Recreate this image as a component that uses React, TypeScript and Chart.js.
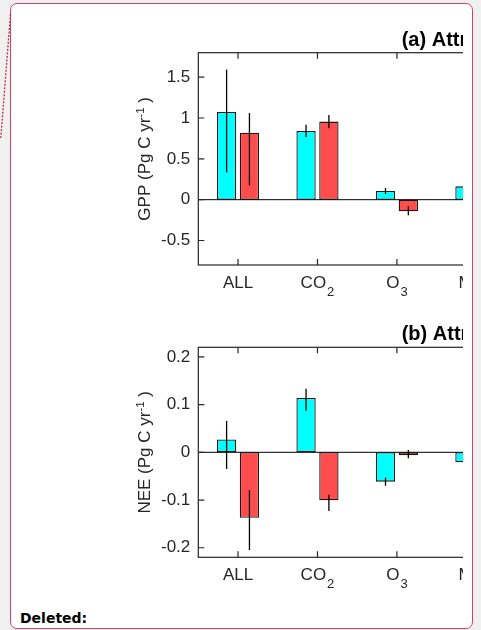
import React, { useEffect, useRef } from "react";
import { Chart, registerables } from "chart.js";

Chart.register(...registerables);

// ---------- data ----------
const categories = ["ALL", "CO₂", "O₃", "MET"];
const seriesNames = ["Experiment 1", "Experiment 2"];

const gppTicks = [-0.5, 0, 0.5, 1, 1.5];
const gppCyan = [1.075, 0.842, 0.106, 0.163];
const gppCyanLow = [0.335, 0.768, 0.07, 0.12];
const gppCyanHigh = [1.593, 0.919, 0.143, 0.21];
const gppRed = [0.821, 0.956, -0.143, 0.05];
const gppRedLow = [0.175, 0.874, -0.192, 0.0];
const gppRedHigh = [1.06, 1.038, -0.082, 0.1];

const neeTicks = [-0.2, -0.1, 0, 0.1, 0.2];
const neeCyan = [0.027, 0.114, -0.0615, -0.021];
const neeCyanLow = [-0.035, 0.087, -0.07, -0.03];
const neeCyanHigh = [0.066, 0.133, -0.053, -0.01];
const neeRed = [-0.137, -0.1005, -0.006, -0.01];
const neeRedLow = [-0.205, -0.123, -0.0126, -0.02];
const neeRedHigh = [-0.079, -0.089, 0.005, 0.0];

// ---------- styles ----------
const FONT = '"Liberation Sans", Arial, Helvetica, sans-serif';
const AXIS_COLOR = "#262626";
const CYAN = "#00ffff";
const RED = "#ff4d4d";

const SUB_MAP: Record<string, string> = { "₀": "0", "₁": "1", "₂": "2", "₃": "3", "₄": "4" };

function splitRuns(text: string) {
  const runs: { t: string; sub: boolean }[] = [];
  for (const ch of text) {
    const sub = ch in SUB_MAP;
    const c = sub ? SUB_MAP[ch] : ch;
    const last = runs[runs.length - 1];
    if (last && last.sub === sub) last.t += c;
    else runs.push({ t: c, sub });
  }
  return runs;
}

type PanelCfg = {
  title: string;
  yMain: string;
  ySup: string;
  yTail: string;
  min: number;
  max: number;
  ticks: number[];
  cyan: number[];
  red: number[];
  low: number[][];
  high: number[][];
  top: number;
  height: number;
  padTop: number;
  xAxisH: number;
};

function makePlugin(cfg: PanelCfg) {
  return {
    id: "panelDeco",
    afterDatasetsDraw(chart: any) {
      const { ctx, chartArea: a, scales } = chart;
      const x = scales.x;
      const y = scales.y;
      ctx.save();
      // zero line
      const y0 = y.getPixelForValue(0);
      ctx.strokeStyle = "#000";
      ctx.lineWidth = 1;
      ctx.beginPath();
      ctx.moveTo(a.left, y0);
      ctx.lineTo(a.right, y0);
      ctx.stroke();
      // error bars
      ctx.lineWidth = 1.3;
      chart.data.datasets.forEach((_ds: any, di: number) => {
        const meta = chart.getDatasetMeta(di);
        meta.data.forEach((bar: any, i: number) => {
          const lo = cfg.low[di][i];
          const hi = cfg.high[di][i];
          ctx.beginPath();
          ctx.moveTo(bar.x, y.getPixelForValue(lo));
          ctx.lineTo(bar.x, y.getPixelForValue(hi));
          ctx.stroke();
        });
      });
      // frame
      ctx.strokeStyle = AXIS_COLOR;
      ctx.lineWidth = 1.2;
      ctx.strokeRect(a.left, a.top, a.right - a.left, a.bottom - a.top);
      const tl = 6;
      ctx.beginPath();
      cfg.ticks.forEach((v) => {
        const py = y.getPixelForValue(v);
        ctx.moveTo(a.left, py);
        ctx.lineTo(a.left + tl, py);
        ctx.moveTo(a.right, py);
        ctx.lineTo(a.right - tl, py);
      });
      categories.forEach((_c, i) => {
        const px = x.getPixelForValue(i);
        ctx.moveTo(px, a.bottom);
        ctx.lineTo(px, a.bottom - tl);
        ctx.moveTo(px, a.top);
        ctx.lineTo(px, a.top + tl);
      });
      ctx.stroke();
      // x labels with subscripts
      ctx.fillStyle = AXIS_COLOR;
      ctx.textBaseline = "alphabetic";
      ctx.textAlign = "left";
      const mainF = `17px ${FONT}`;
      const subF = `13px ${FONT}`;
      categories.forEach((c, i) => {
        const runs = splitRuns(c);
        let total = 0;
        runs.forEach((r) => {
          ctx.font = r.sub ? subF : mainF;
          total += ctx.measureText(r.t).width + (r.sub ? 1 : 0);
        });
        let cx = x.getPixelForValue(i) - total / 2;
        const base = a.bottom + 22.5;
        runs.forEach((r) => {
          ctx.font = r.sub ? subF : mainF;
          if (r.sub) cx += 1;
          ctx.fillText(r.t, cx, r.sub ? base + 8.5 : base);
          cx += ctx.measureText(r.t).width;
        });
      });
      // title
      ctx.fillStyle = "#000";
      ctx.font = `bold 20px ${FONT}`;
      ctx.fillText(cfg.title, a.left + 203.4, a.top - 7);
      // y title (rotated, with superscript)
      ctx.save();
      ctx.translate(20, (a.top + a.bottom) / 2);
      ctx.rotate(-Math.PI / 2);
      ctx.fillStyle = AXIS_COLOR;
      const supF = `11.5px ${FONT}`;
      ctx.font = mainF;
      const w1 = ctx.measureText(cfg.yMain).width;
      const w3 = ctx.measureText(cfg.yTail).width;
      ctx.font = supF;
      const w2 = ctx.measureText(cfg.ySup).width;
      let sx = -(w1 + w2 + w3) / 2;
      ctx.font = mainF;
      ctx.fillText(cfg.yMain, sx, 0);
      sx += w1;
      ctx.font = supF;
      ctx.fillText(cfg.ySup, sx, -6.5);
      sx += w2;
      ctx.font = mainF;
      ctx.fillText(cfg.yTail, sx, 0);
      ctx.restore();
      ctx.restore();
    },
  };
}

const CANVAS_W = 420;

function Panel({ cfg }: { cfg: PanelCfg }) {
  const ref = useRef<HTMLCanvasElement>(null);
  useEffect(() => {
    const plotW = categories.length * 79.45;
    const leftW = 68.3;
    const chart = new Chart(ref.current as HTMLCanvasElement, {
      type: "bar",
      data: {
        labels: categories,
        datasets: [
          {
            label: seriesNames[0],
            data: cfg.cyan,
            backgroundColor: CYAN,
            borderColor: "#1a1a1a",
            borderWidth: 1.3,
            borderSkipped: false,
          },
          {
            label: seriesNames[1],
            data: cfg.red,
            backgroundColor: RED,
            borderColor: "#1a1a1a",
            borderWidth: 1.3,
            borderSkipped: false,
          },
        ],
      },
      options: {
        animation: false,
        responsive: false,
        maintainAspectRatio: false,
        layout: {
          padding: { top: cfg.padTop, left: 0, bottom: 0, right: CANVAS_W - leftW - plotW },
        },
        datasets: {
          bar: { categoryPercentage: 0.575, barPercentage: 0.845 },
        },
        plugins: {
          legend: { display: false },
          tooltip: { enabled: false },
          title: { display: false },
        },
        scales: {
          x: {
            type: "category",
            offset: true,
            grid: { display: false },
            border: { display: false },
            ticks: { display: false },
            afterFit: (s: any) => {
              s.height = cfg.xAxisH;
            },
          },
          y: {
            type: "linear",
            min: cfg.min,
            max: cfg.max,
            grid: { display: false, drawTicks: false },
            border: { display: false },
            afterBuildTicks: (s: any) => {
              s.ticks = cfg.ticks.map((v) => ({ value: v }));
            },
            ticks: {
              padding: 8,
              color: AXIS_COLOR,
              font: { family: FONT, size: 17 },
              callback: (v: any) => String(Math.round(Number(v) * 100) / 100),
            },
            afterFit: (s: any) => {
              s.width = leftW;
            },
          },
        },
      },
      plugins: [makePlugin(cfg)],
    } as any);
    return () => chart.destroy();
  }, []);
  return (
    <canvas
      ref={ref}
      width={CANVAS_W}
      height={cfg.height}
      style={{ position: "absolute", left: 130, top: cfg.top, width: CANVAS_W, height: cfg.height }}
    />
  );
}

const panelA: PanelCfg = {
  title: "(a) Attribution of GPP changes",
  yMain: "GPP (Pg C yr",
  ySup: "-1",
  yTail: " )",
  min: -0.8,
  max: 1.8,
  ticks: gppTicks,
  cyan: gppCyan,
  red: gppRed,
  low: [gppCyanLow, gppRedLow],
  high: [gppCyanHigh, gppRedHigh],
  top: 20,
  height: 290,
  padTop: 32.7,
  xAxisH: 45,
};

const panelB: PanelCfg = {
  title: "(b) Attribution of NEE changes",
  yMain: "NEE (Pg C yr",
  ySup: "-1",
  yTail: " )",
  min: -0.22,
  max: 0.22,
  ticks: neeTicks,
  cyan: neeCyan,
  red: neeRed,
  low: [neeCyanLow, neeRedLow],
  high: [neeCyanHigh, neeRedHigh],
  top: 315,
  height: 288,
  padTop: 32.3,
  xAxisH: 45.7,
};

export default function App() {
  useEffect(() => {
    document.body.style.margin = "0";
    document.body.style.background = "#f0f0f0";
  }, []);
  return (
    <div style={{ position: "relative", width: 481, height: 630, overflow: "hidden", background: "#f0f0f0" }}>
      <div
        style={{
          position: "absolute",
          left: 10,
          top: 3,
          width: 463,
          height: 626,
          boxSizing: "border-box",
          border: "1.5px solid #d3416b",
          borderRadius: 7,
          background: "#ffffff",
        }}
      />
      <svg width={481} height={630} style={{ position: "absolute", left: 0, top: 0 }}>
        <line x1={10.5} y1={14} x2={0.8} y2={138} stroke="#c02a55" strokeWidth={1.3} strokeDasharray="2 1.5" />
      </svg>
      <div style={{ position: "absolute", left: 0, top: 0, width: 463, height: 630, overflow: "hidden" }}>
        <Panel cfg={panelA} />
        <Panel cfg={panelB} />
      </div>
      <div
        style={{
          position: "absolute",
          left: 20,
          top: 610,
          fontFamily: '"DejaVu Sans", Verdana, sans-serif',
          fontWeight: "bold",
          fontSize: 14,
          lineHeight: "16px",
          color: "#000",
        }}
      >
        Deleted:
      </div>
    </div>
  );
}
